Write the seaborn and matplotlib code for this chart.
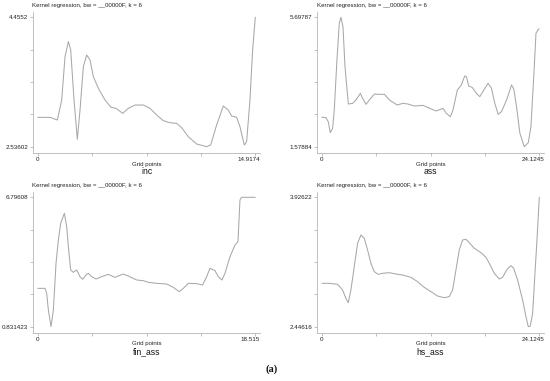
import numpy as np
import pandas as pd
import matplotlib
matplotlib.use("Agg")
import matplotlib.pyplot as plt
import seaborn as sns
from matplotlib.transforms import ScaledTranslation

sns.set_style("white")
plt.rcParams['font.family'] = ['Liberation Sans', 'DejaVu Sans']

# ---------------- data ----------------
inc_x = [0, 0.845, 1.348, 1.645, 1.873, 2.102, 2.262, 2.490, 2.718, 2.901, 3.130, 3.358,
         3.587, 3.815, 4.158, 4.614, 5.026, 5.368, 5.825, 6.214, 6.670, 7.242, 7.698,
         8.155, 8.612, 9.069, 9.526, 9.869, 10.325, 10.897, 11.582, 11.856, 12.267,
         12.724, 13.067, 13.295, 13.638, 13.866, 14.163, 14.323, 14.552, 14.734, 14.9174]
inc_y = [2.971, 2.971, 2.932, 3.229, 3.872, 4.094, 3.971, 3.229, 2.645, 3.080, 3.723, 3.896,
         3.822, 3.575, 3.402, 3.229, 3.120, 3.105, 3.031, 3.105, 3.154, 3.154, 3.105,
         3.006, 2.922, 2.892, 2.882, 2.818, 2.684, 2.576, 2.53602, 2.561, 2.858,
         3.140, 3.080, 2.991, 2.971, 2.833, 2.561, 2.610, 3.229, 3.971, 4.4552]

ass_x = [0, 0.445, 0.705, 0.928, 1.188, 1.373, 1.670, 1.930, 2.116, 2.338, 2.561, 2.932,
         3.415, 3.786, 4.268, 4.528, 4.899, 5.270, 5.827, 6.384, 6.941, 7.497, 8.351,
         8.982, 9.539, 10.281, 11.209, 11.951, 12.693, 13.436, 13.807, 14.252, 14.549,
         15.032, 15.477, 15.848, 16.034, 16.293, 16.665, 17.147, 17.518, 17.964, 18.446,
         18.817, 19.188, 19.560, 19.931, 20.487, 21.044, 21.304, 21.601, 21.972, 22.455,
         22.900, 23.197, 23.568, 23.754, 24.013, 24.1245]
ass_y = [2.513, 2.503, 2.375, 2.025, 2.163, 2.747, 4.339, 5.507, 5.69787, 5.401, 4.127, 2.938,
         2.959, 3.065, 3.278, 3.118, 2.927, 3.065, 3.256, 3.246, 3.246, 3.065, 2.906,
         2.959, 2.938, 2.874, 2.895, 2.800, 2.715, 2.800, 2.641, 2.534, 2.747,
         3.384, 3.543, 3.830, 3.808, 3.511, 3.469, 3.278, 3.171, 3.384, 3.596,
         3.437, 2.959, 2.609, 2.694, 3.065, 3.543, 3.405, 2.853, 2.004, 1.57884,
         1.706, 2.216, 4.127, 5.188, 5.316, 5.326]

fin_x = [0, 0.624, 0.766, 0.907, 1.134, 1.333, 1.559, 1.758, 1.956, 2.268, 2.467, 2.609,
         2.807, 3.034, 3.317, 3.601, 3.828, 4.111, 4.310, 4.593, 4.962, 5.444, 6.011,
         6.578, 7.287, 7.712, 8.421, 8.988, 9.414, 10.122, 10.973, 11.540, 12.050,
         12.391, 12.816, 13.525, 14.035, 14.375, 14.659, 15.084, 15.368, 15.680, 15.935,
         16.360, 16.786, 17.041, 17.211, 17.353, 18.515]
fin_y = [2.599, 2.599, 2.369, 1.600, 0.831423, 1.600, 3.752, 4.828, 5.597, 6.058, 5.443, 4.521,
         3.445, 3.337, 3.445, 3.137, 3.014, 3.214, 3.291, 3.137, 3.030, 3.137, 3.245,
         3.107, 3.260, 3.168, 2.984, 2.953, 2.876, 2.830, 2.799, 2.645, 2.446,
         2.599, 2.830, 2.815, 2.753, 3.137, 3.522, 3.414, 3.137, 2.984, 3.291,
         4.060, 4.598, 4.752, 6.673, 6.79608, 6.79608]

hs_x = [0, 0.814, 1.739, 2.294, 2.664, 2.923, 3.219, 3.589, 3.959, 4.329, 4.699, 5.069,
        5.439, 5.809, 6.253, 6.734, 7.474, 8.214, 8.954, 9.879, 10.619, 11.359, 12.099,
        12.839, 13.579, 14.134, 14.504, 14.874, 15.244, 15.614, 15.984, 16.354, 16.909,
        17.649, 18.204, 18.575, 19.130, 19.685, 20.055, 20.536, 20.980, 21.276, 21.720,
        22.275, 22.645, 22.904, 23.126, 23.385, 23.644, 23.866, 24.1245]
hs_y = [2.942, 2.942, 2.931, 2.866, 2.770, 2.721, 2.866, 3.133, 3.400, 3.495, 3.457, 3.324,
        3.171, 3.076, 3.045, 3.057, 3.064, 3.049, 3.037, 3.011, 2.961, 2.896, 2.847,
        2.797, 2.778, 2.790, 2.866, 3.095, 3.324, 3.438, 3.446, 3.407, 3.343,
        3.293, 3.240, 3.171, 3.057, 2.992, 3.011, 3.102, 3.144, 3.114, 2.980,
        2.751, 2.561, 2.44616, 2.454, 2.599, 3.057, 3.438, 3.92622]

titles = ["Kernel regression, bw = __00000F, k = 6"] * 4
names = ["inc", "ass", "fin_ass", "hs_ass"]
ytick_text = [("2.53602", "4.4552"), ("1.57884", "5.69787"),
              ("0.831423", "6.79608"), ("2.44616", "3.92622")]
xtick_text = [("0", "14.9174"), ("0", "24.1245"), ("0", "18.515"), ("0", "24.1245")]
series = [(inc_x, inc_y), (ass_x, ass_y), (fin_x, fin_y), (hs_x, hs_y)]

# ---------------- layout (pixels) ----------------
W, H = 550, 381
fig = plt.figure(figsize=(W / 100, H / 100), dpi=100)
boxes = [(32.5, 260.0, 12, 153), (316.7, 544.0, 12, 153),
         (32.5, 260.0, 192, 333), (316.7, 544.0, 192, 333)]
pad_l, pad_r, pad_t, pad_b = 5.2, 4.7, 5.3, 6.3
line_col = "#a8a8a8"
axis_col = "#b5b5b5"
txt_col = "#222222"

for i in range(4):
    l, r, t, b = boxes[i]
    ax = fig.add_axes([l / W, 1 - b / H, (r - l) / W, (b - t) / H])
    xs, ys = series[i]
    df = pd.DataFrame({"x": xs, "y": ys})
    sns.lineplot(data=df, x="x", y="y", ax=ax, color=line_col, linewidth=0.75,
                 estimator=None, sort=False)
    y0, y1 = float(ytick_text[i][0]), float(ytick_text[i][1])
    x0, x1 = float(xtick_text[i][0]), float(xtick_text[i][1])
    wpx = (r - l) - pad_l - pad_r
    hpx = (b - t) - pad_t - pad_b
    sx = (x1 - x0) / wpx
    sy = (y1 - y0) / hpx
    ax.set_xlim(x0 - pad_l * sx, x1 + pad_r * sx)
    ax.set_ylim(y0 - pad_b * sy, y1 + pad_t * sy)
    ax.set_yticks(np.linspace(y0, y1, 5))
    ax.set_yticklabels([ytick_text[i][0], "", "", "", ytick_text[i][1]])
    ax.set_xticks(np.linspace(x0, x1, 5))
    ax.set_xticklabels([xtick_text[i][0], "", "", "", xtick_text[i][1]])
    ax.set_xlabel("")
    ax.set_ylabel("")
    for s in ["top", "right"]:
        ax.spines[s].set_visible(False)
    for s in ["left", "bottom"]:
        ax.spines[s].set_color(axis_col)
        ax.spines[s].set_linewidth(0.6)
    ax.tick_params(axis="both", which="both", length=2.2, width=0.6, color=axis_col,
                   labelsize=4.5, labelcolor=txt_col, pad=0.8, direction="out",
                   left=True, bottom=True)
    last = ax.get_xticklabels()[-1]
    last.set_horizontalalignment("right")
    last.set_transform(last.get_transform() + ScaledTranslation(pad_r / 100, 0, fig.dpi_scale_trans))
    ax.grid(False)
    # title, axis title and variable name
    fig.text(l / W, 1 - (t - 6.7) / H, titles[i], fontsize=4.4, color=txt_col,
             ha="left", va="center")
    cx = (l + pad_l + (r - pad_r)) / 2
    fig.text(cx / W, 1 - (b + 11) / H, "Grid points", fontsize=4.4, color=txt_col,
             ha="center", va="center")
    fig.text(cx / W, 1 - (b + 18.5) / H, names[i], fontsize=6.2, color="#111111",
             ha="center", va="center")

fig.text(272 / W, 1 - 369 / H, "(a)", fontsize=7.5, fontweight="bold",
         family=["Liberation Serif", "DejaVu Serif"], color="#111111",
         ha="center", va="center")

fig.savefig("out.png", dpi=100, facecolor="white")
